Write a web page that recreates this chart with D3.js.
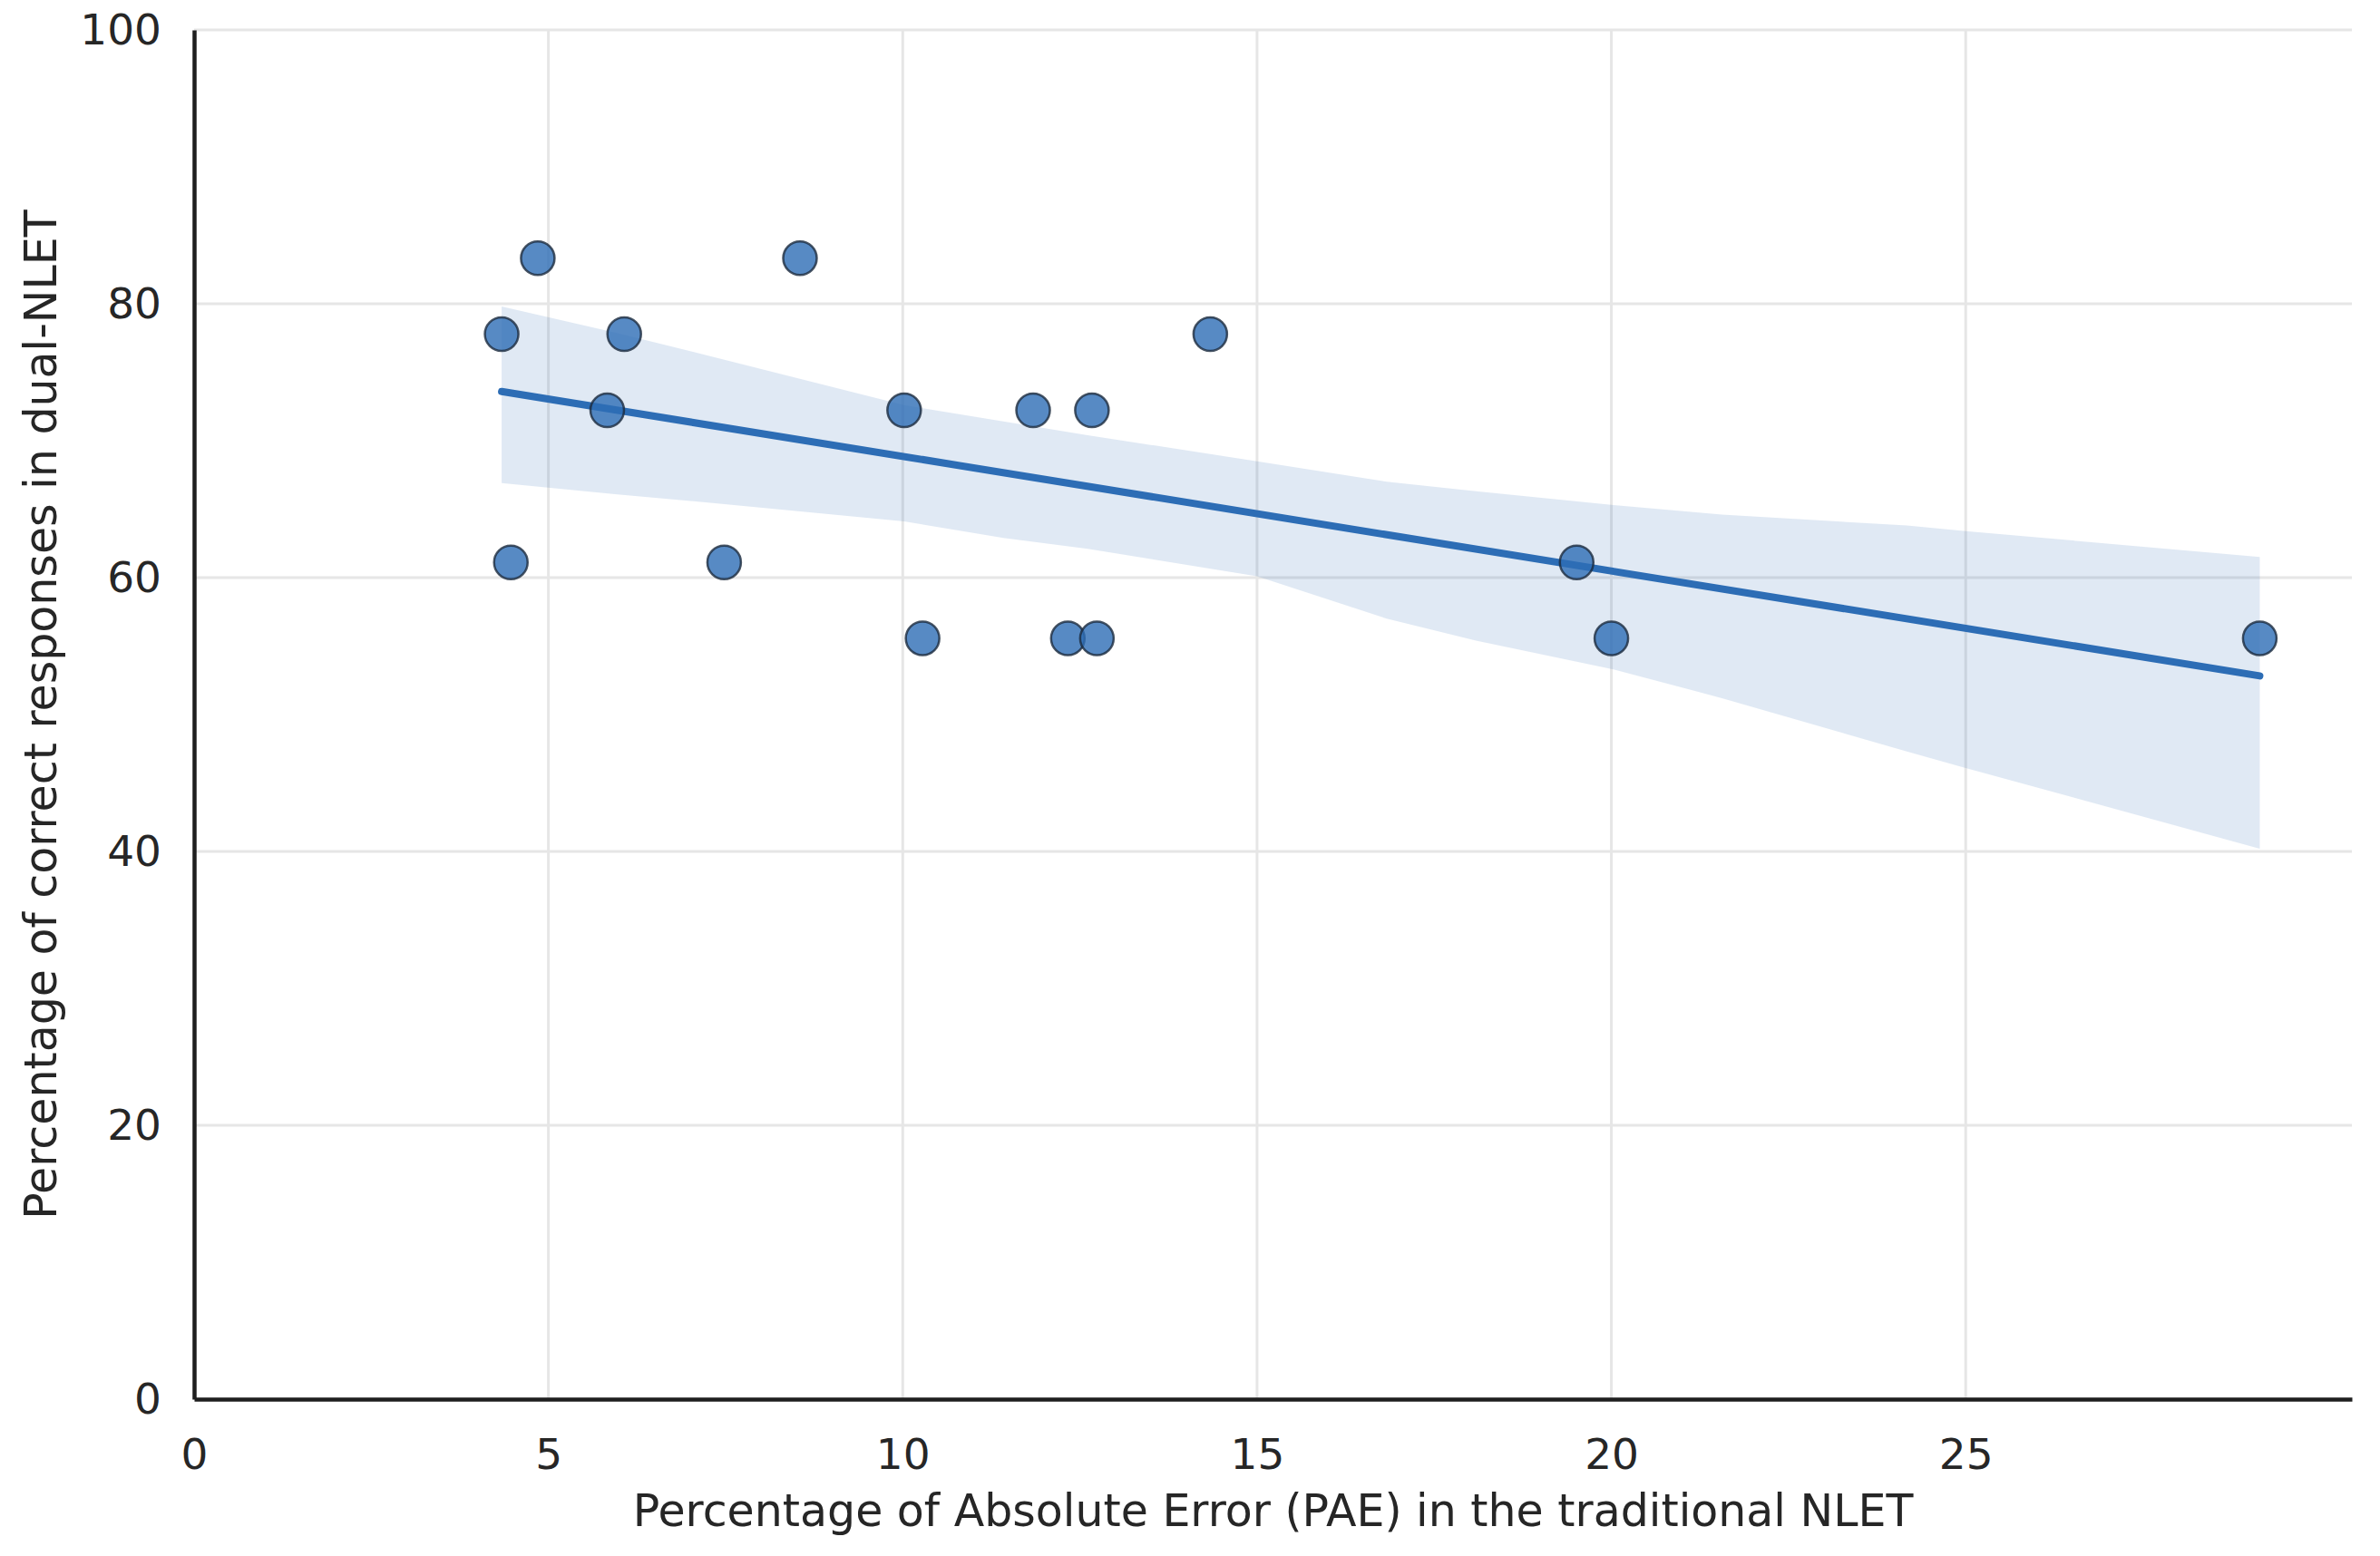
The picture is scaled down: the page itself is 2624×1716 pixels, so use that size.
<!DOCTYPE html>
<html>
<head>
<meta charset="utf-8">
<script src="https://cdn.jsdelivr.net/npm/d3@7"></script>
<style>
  body { margin: 0; background: #fff; }
  text { font-family: "DejaVu Sans", sans-serif; fill: #262626; }
</style>
</head>
<body>
<div id="chart"></div>
<script>
// data points
const paeValues = [4.34, 4.85, 6.07, 5.83, 4.47, 7.48, 8.55, 10.02, 10.28, 11.84, 12.67, 12.33, 12.74, 14.34, 19.51, 20.0, 29.15];
const correctValues = [77.78, 83.33, 77.78, 72.22, 61.11, 61.11, 83.33, 72.22, 55.56, 72.22, 72.22, 55.56, 55.56, 77.78, 61.11, 55.56, 55.56];

// confidence band (bootstrap)
const bandX = [4.34, 5.94, 7.42, 10.02, 11.42, 12.61, 15.0, 16.83, 18.09, 20.03, 21.56, 24.17, 25.0, 29.15];
const bandUpper = [79.8, 77.9, 76.0, 72.6, 71.4, 70.4, 68.5, 67.0, 66.3, 65.3, 64.6, 63.8, 63.4, 61.5];
const bandLower = [66.9, 66.1, 65.4, 64.1, 62.9, 62.1, 60.1, 57.0, 55.4, 53.3, 51.2, 47.3, 46.1, 40.2];

const xTicks = [0, 5, 10, 15, 20, 25];
const yTicks = [0, 20, 40, 60, 80, 100];

const xLabel = "Percentage of Absolute Error (PAE) in the traditional NLET";
const yLabel = "Percentage of correct responses in dual-NLET";

const W = 2624, H = 1716;
const margin = {top: 33, right: 31, bottom: 173, left: 214};
const width = W - margin.left - margin.right;
const height = H - margin.top - margin.bottom;
const blue = "#2d6db5";

const svg = d3.select("#chart").append("svg")
    .attr("width", W)
    .attr("height", H);

const g = svg.append("g")
    .attr("transform", "translate(" + margin.left + "," + margin.top + ")");

const x = d3.scaleLinear().domain([0, 30.45]).range([0, width]);
const y = d3.scaleLinear().domain([0, 100]).range([height, 0]);

// grid
g.append("g").selectAll("line")
    .data(xTicks.filter(d => d > 0))
    .join("line")
    .attr("x1", d => x(d)).attr("x2", d => x(d))
    .attr("y1", 0).attr("y2", height)
    .attr("stroke", "#e6e6e6").attr("stroke-width", 3);
g.append("g").selectAll("line")
    .data(yTicks.filter(d => d > 0))
    .join("line")
    .attr("x1", 0).attr("x2", width)
    .attr("y1", d => y(d)).attr("y2", d => y(d))
    .attr("stroke", "#e6e6e6").attr("stroke-width", 3);

// band
const band = bandX.map((d, i) => ({x: d, lo: bandLower[i], hi: bandUpper[i]}));
g.append("path")
    .datum(band)
    .attr("d", d3.area().x(d => x(d.x)).y0(d => y(d.lo)).y1(d => y(d.hi)))
    .attr("fill", blue)
    .attr("fill-opacity", 0.15);

// least squares fit
const pts = paeValues.map((d, i) => ({x: d, y: correctValues[i]}));
const mx = d3.mean(pts, d => d.x), my = d3.mean(pts, d => d.y);
const slope = d3.sum(pts, d => (d.x - mx) * (d.y - my)) / d3.sum(pts, d => (d.x - mx) * (d.x - mx));
const icpt = my - slope * mx;
const [x0, x1] = d3.extent(paeValues);
g.append("path")
    .datum([x0, x1])
    .attr("d", d3.line().x(d => x(d)).y(d => y(icpt + slope * d)))
    .attr("stroke", blue)
    .attr("stroke-width", 8)
    .attr("stroke-linecap", "round")
    .attr("fill", "none");

// points
g.append("g").selectAll("circle")
    .data(pts)
    .join("circle")
    .attr("cx", d => x(d.x))
    .attr("cy", d => y(d.y))
    .attr("r", 18.5)
    .attr("fill", blue)
    .attr("fill-opacity", 0.8)
    .attr("stroke", "#1c2a3d")
    .attr("stroke-opacity", 0.8)
    .attr("stroke-width", 2.5);

// axes
const xAxis = g.append("g")
    .attr("transform", "translate(0," + height + ")")
    .call(d3.axisBottom(x).tickValues(xTicks).tickSize(0).tickPadding(44));
const yAxis = g.append("g")
    .call(d3.axisLeft(y).tickValues(yTicks).tickSize(0).tickPadding(36));
[xAxis, yAxis].forEach(a => {
    a.select(".domain").attr("stroke", "#1f1f1f").attr("stroke-width", 4.5);
    a.selectAll("text").style("font-size", "47px").attr("fill", "#262626");
});

svg.append("text")
    .attr("x", margin.left + width / 2)
    .attr("y", 1683)
    .attr("text-anchor", "middle")
    .style("font-size", "49px")
    .text(xLabel);

svg.append("text")
    .attr("transform", "translate(62," + (margin.top + height / 2) + ") rotate(-90)")
    .attr("text-anchor", "middle")
    .style("font-size", "49px")
    .text(yLabel);
</script>
</body>
</html>
